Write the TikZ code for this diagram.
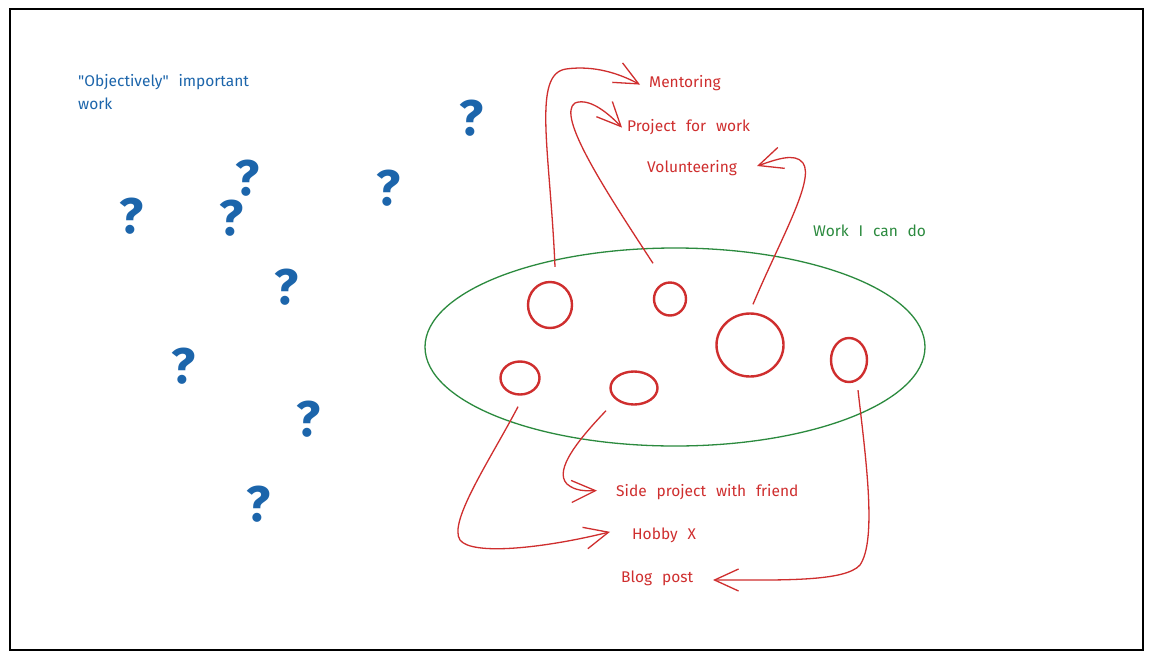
\documentclass[tikz,border=0pt]{standalone}
\usepackage{fontspec}
\setmainfont{Fira Sans}[WordSpace=2.4]
\newfontfamily\plainquotes{Fira Sans}[WordSpace=2.4, Ligatures=TeXOff]
\usetikzlibrary{arrows.meta,shapes.geometric}
\definecolor{inkred}{HTML}{CF2E2E}
\definecolor{inkblue}{HTML}{1C65AB}
\definecolor{inkgreen}{HTML}{2B8A3E}
\begin{document}
\begin{tikzpicture}[x=1pt,y=-1pt,
  txt/.style={anchor=base west, inner sep=0pt, font=\fontsize{15.5}{22}\selectfont},
  redtxt/.style={txt, text=inkred},
  qmark/.style={inner sep=0pt, text=inkblue, font=\fontsize{50}{50}\selectfont\bfseries},
  bubble/.style={ellipse, draw=inkred, line width=2.4pt, inner sep=0pt},
  arr/.style={draw=inkred, line width=1.3pt,
    -{Straight Barb[length=24pt,width=22pt,line width=1.3pt]}}]
\useasboundingbox (0,0) rectangle (1154,659);
\fill[white] (0,0) rectangle (1154,659);
% outer frame
\draw[line width=1.3pt] (10,9) rectangle (1143,650);

% left-hand label and question marks
\node[txt, text=inkblue] (obj) at (78,86) {\plainquotes "Objectively" important};
\node[txt, text=inkblue] (objw) at (78,109) {work};
\node[qmark] (q1) at (472,118) {?};
\node[qmark] (q2) at (248,178) {?};
\node[qmark] (q3) at (132,216) {?};
\node[qmark] (q4) at (232,218) {?};
\node[qmark] (q5) at (389,188) {?};
\node[qmark] (q6) at (287,287) {?};
\node[qmark] (q7) at (184,366) {?};
\node[qmark] (q8) at (309,419) {?};
\node[qmark] (q9) at (259,504) {?};

% the set of work I can do
\node[ellipse, draw=inkgreen, line width=1.3pt, minimum width=500pt,
  minimum height=198pt] (pool) at (675,347) {};
\node[txt, text=inkgreen] (can) at (813,236) {Work I can do};

% individual pieces of work
\node[bubble, minimum width=44pt, minimum height=46pt] (a) at (550,305) {};
\node[bubble, minimum width=32pt, minimum height=33pt] (b) at (670,299) {};
\node[bubble, minimum width=67pt, minimum height=63pt] (c) at (750,345) {};
\node[bubble, minimum width=36pt, minimum height=44pt] (d) at (849,360) {};
\node[bubble, minimum width=39pt, minimum height=33pt] (e) at (520,378) {};
\node[bubble, minimum width=47pt, minimum height=33pt] (f) at (634,388) {};

% outlets
\node[redtxt] (ment) at (649,87) {Mentoring};
\node[redtxt] (proj) at (627,131) {Project for work};
\node[redtxt] (vol) at (647,172) {Volunteering};
\node[redtxt] (side) at (616,496) {Side project with friend};
\node[redtxt] (hob) at (632,539) {Hobby X};
\node[redtxt] (blog) at (621,582) {Blog post};

% connectors
\draw[arr] ([xshift=5pt,yshift=14pt]a.north)
  .. controls (550,150) and (532,74) .. (566,69)
  .. controls (595,65) and (620,74) .. ([xshift=-9pt,yshift=-2pt]ment.west);
\draw[arr] ([xshift=-17pt,yshift=18pt]b.north)
  .. controls (605,190) and (556,115) .. (575,103)
  .. controls (590,97) and (610,115) .. ([xshift=-5pt,yshift=-1pt]proj.west);
\draw[arr] ([xshift=3pt,yshift=8pt]c.north)
  .. controls (780,240) and (815,180) .. (803,163)
  .. controls (795,152) and (775,160) .. (757,166);
\draw[arr] ([xshift=-2pt,yshift=-11pt]e.south)
  .. controls (490,460) and (448,522) .. (460,540)
  .. controls (472,556) and (545,548) .. ([xshift=-22pt,yshift=3pt]hob.west);
\draw[arr] ([xshift=-28pt,yshift=-5pt]f.south)
  .. controls (580,438) and (553,470) .. (567,484)
  .. controls (575,491) and (585,491) .. ([xshift=-19pt,yshift=1pt]side.west);
\draw[arr] ([xshift=9pt,yshift=-7pt]d.south)
  .. controls (866,460) and (877,540) .. (860,565)
  .. controls (845,582) and (780,580) .. (713,580);
\end{tikzpicture}
\end{document}
